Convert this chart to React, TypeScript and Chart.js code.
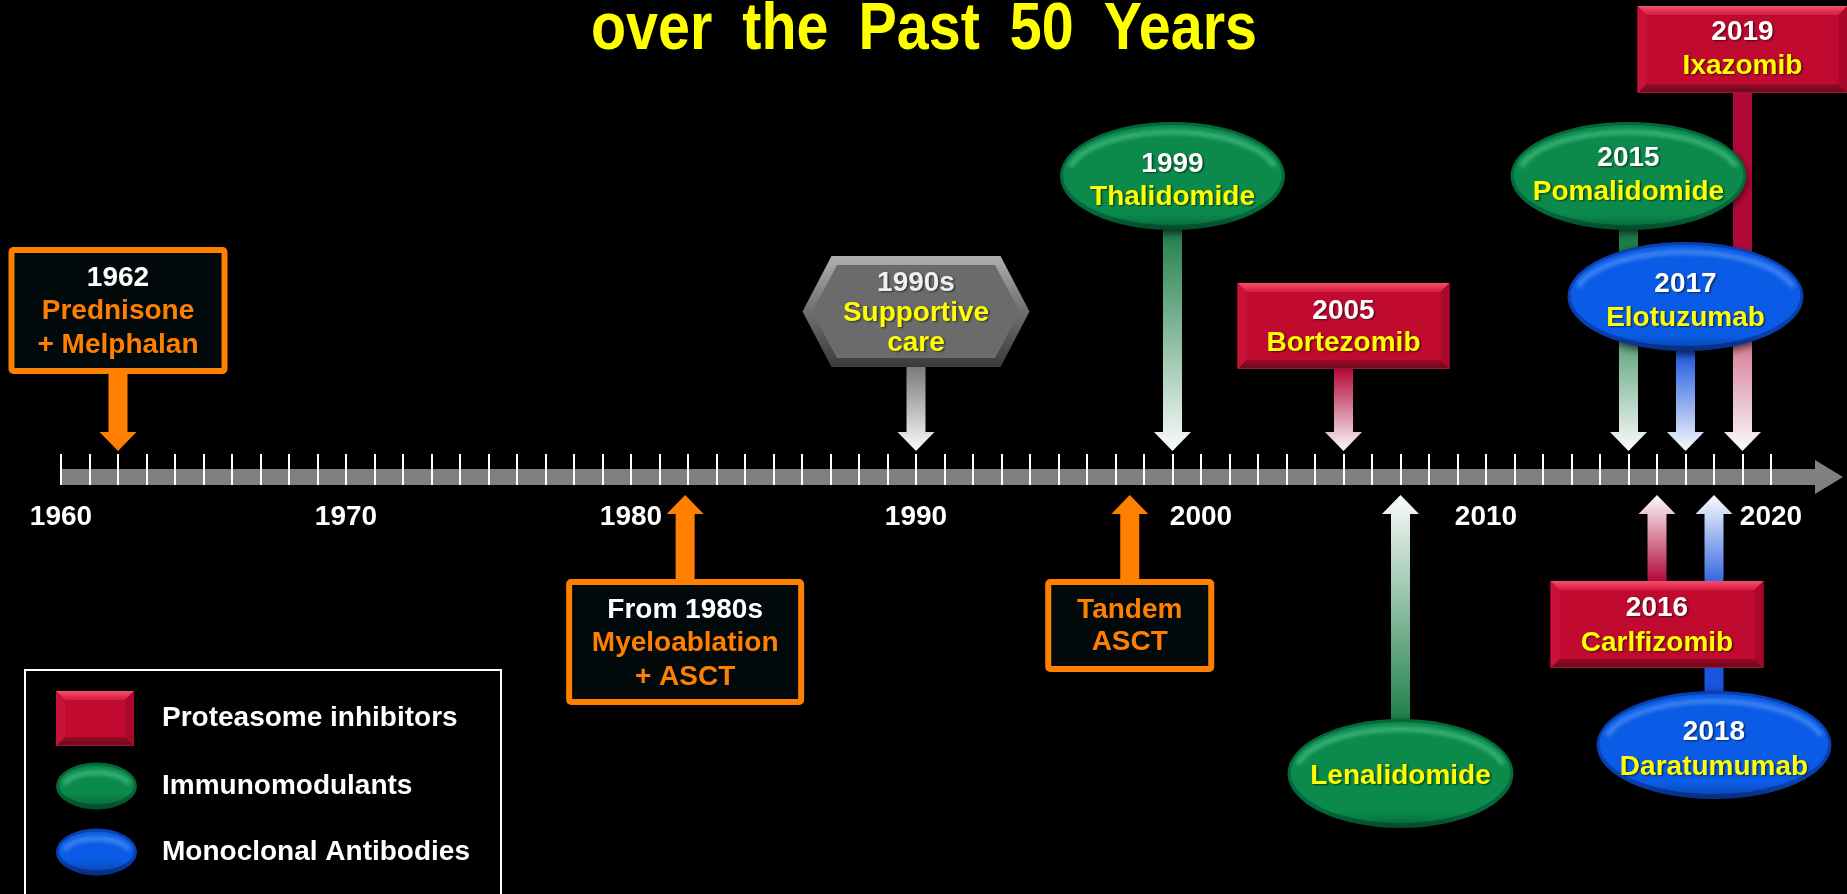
import React, { useEffect, useRef } from 'react';
import { Chart, registerables } from 'chart.js';

Chart.register(...registerables);

// ---- Timeline data ----
const yearMin = 1960;
const yearMax = 2020;
const decadeTicks = [1960, 1970, 1980, 1990, 2000, 2010, 2020];

const eventYears = [1962, 1981.9, 1990, 1997.5, 1999, 2005, 2007, 2015, 2016, 2017, 2018, 2019];
const eventDates = ['1962', 'From 1980s', '1990s', '', '1999', '2005', '', '2015', '2016', '2017', '2018', '2019'];
const eventNames = [
  ['Prednisone', '+ Melphalan'],
  ['Myeloablation', '+ ASCT'],
  ['Supportive', 'care'],
  ['Tandem', 'ASCT'],
  ['Thalidomide'],
  ['Bortezomib'],
  ['Lenalidomide'],
  ['Pomalidomide'],
  ['Carlfizomib'],
  ['Elotuzumab'],
  ['Daratumumab'],
  ['Ixazomib'],
];
const eventClasses = ['therapy', 'therapy', 'care', 'therapy', 'imid', 'pi', 'imid', 'imid', 'pi', 'mab', 'mab', 'pi'];

const legendClasses = ['pi', 'imid', 'mab'];
const legendLabels = ['Proteasome inhibitors', 'Immunomodulants', 'Monoclonal Antibodies'];

const titleWords = ['over', 'the', 'Past', '50', 'Years'];

// ---- Layout (pixels) ----
type Placement = { above: boolean; top: number; bottom: number; width: number; textY: number[]; solid?: number };
const placements: Placement[] = [
  { above: true, top: 247, bottom: 374, width: 219, textY: [278, 311, 345] },
  { above: false, top: 579, bottom: 705, width: 238, textY: [610, 643, 677] },
  { above: true, top: 256, bottom: 367, width: 227, textY: [283, 313, 343] },
  { above: false, top: 579, bottom: 672, width: 169, textY: [610, 642] },
  { above: true, top: 122, bottom: 230, width: 225, textY: [164, 197] },
  { above: true, top: 283, bottom: 369, width: 212, textY: [311, 343] },
  { above: false, top: 719, bottom: 828, width: 226, textY: [776] },
  { above: true, top: 122, bottom: 230, width: 236, textY: [158, 192], solid: 0.3 },
  { above: false, top: 581, bottom: 668, width: 213, textY: [608, 643] },
  { above: true, top: 242, bottom: 351, width: 236, textY: [284, 318] },
  { above: false, top: 691, bottom: 799, width: 235, textY: [732, 767], solid: 0.5 },
  { above: true, top: 6, bottom: 93, width: 210, textY: [32, 66], solid: 0.42 },
];

const TITLE = { left: 591, width: 666, baseline: 49, wordGap: 30, font: 'bold 66px "Liberation Sans", Arial, sans-serif' };
const AX = { barTop: 469, barBottom: 485, tickTop: 454, headX: 1815, tipX: 1843, headTop: 460, headBottom: 494, labelY: 517 };
const ARROW = { downTip: 451, upTip: 495, headH: 19, headW: 37, shaftW: 19 };

const FONT = 'bold 28px "Liberation Sans", Arial, Helvetica, sans-serif';
const ORANGE = '#ff8000';
const YELLOW = '#ffff00';

const palette: Record<string, { shaft: string; base: string; rim: string; light: string }> = {
  therapy: { shaft: ORANGE, base: '#02090b', rim: ORANGE, light: ORANGE },
  care: { shaft: '#7a7a7a', base: '#6c6c6c', rim: '#3e3e3e', light: '#a6a6a6' },
  pi: { shaft: '#b3093a', base: '#c00a30', rim: '#7c0a20', light: '#f0445f' },
  imid: { shaft: '#1f8049', base: '#0b8a4c', rim: '#05683a', light: '#46bd80' },
  mab: { shaft: '#1a55de', base: '#0a5ce6', rim: '#0a3fb0', light: '#4d8ff5' },
};

function arrowPath(ctx: CanvasRenderingContext2D, cx: number, fromY: number, tipY: number) {
  const dir = tipY > fromY ? 1 : -1;
  const hb = tipY - dir * ARROW.headH;
  const s = ARROW.shaftW / 2;
  const h = ARROW.headW / 2;
  ctx.beginPath();
  ctx.moveTo(cx - s, fromY);
  ctx.lineTo(cx - s, hb);
  ctx.lineTo(cx - h, hb);
  ctx.lineTo(cx, tipY);
  ctx.lineTo(cx + h, hb);
  ctx.lineTo(cx + s, hb);
  ctx.lineTo(cx + s, fromY);
  ctx.closePath();
}

function drawOutlineBox(ctx: CanvasRenderingContext2D, l: number, t: number, w: number, h: number) {
  ctx.save();
  ctx.fillStyle = '#02090b';
  ctx.beginPath();
  ctx.roundRect(l + 2, t + 2, w - 4, h - 4, 3);
  ctx.fill();
  ctx.strokeStyle = ORANGE;
  ctx.lineWidth = 6;
  ctx.lineJoin = 'round';
  ctx.beginPath();
  ctx.roundRect(l + 3, t + 3, w - 6, h - 6, 2);
  ctx.stroke();
  ctx.restore();
}

function drawHexagon(ctx: CanvasRenderingContext2D, l: number, t: number, w: number, h: number) {
  const r = l + w;
  const b = t + h;
  const m = t + h / 2;
  const inset = 29;
  const hex = (d: number) => {
    ctx.beginPath();
    ctx.moveTo(l + d * 1.1, m);
    ctx.lineTo(l + inset + d * 0.6, t + d);
    ctx.lineTo(r - inset - d * 0.6, t + d);
    ctx.lineTo(r - d * 1.1, m);
    ctx.lineTo(r - inset - d * 0.6, b - d);
    ctx.lineTo(l + inset + d * 0.6, b - d);
    ctx.closePath();
  };
  ctx.save();
  const g = ctx.createLinearGradient(0, t, 0, b);
  g.addColorStop(0, '#b0b0b0');
  g.addColorStop(0.5, '#6e6e6e');
  g.addColorStop(1, '#3a3a3a');
  hex(0);
  ctx.fillStyle = g;
  ctx.fill();
  hex(9);
  ctx.fillStyle = '#6b6b6b';
  ctx.fill();
  ctx.restore();
}

function drawBevelRect(ctx: CanvasRenderingContext2D, l: number, t: number, w: number, h: number) {
  const r = l + w;
  const b = t + h;
  const d = 9;
  const poly = (pts: number[][], fill: string | CanvasGradient) => {
    ctx.beginPath();
    ctx.moveTo(pts[0][0], pts[0][1]);
    for (let i = 1; i < pts.length; i++) ctx.lineTo(pts[i][0], pts[i][1]);
    ctx.closePath();
    ctx.fillStyle = fill;
    ctx.fill();
  };
  ctx.save();
  poly([[l, t], [r, t], [r, b], [l, b]], '#c00a30');
  const gt = ctx.createLinearGradient(0, t, 0, t + d);
  gt.addColorStop(0, '#f3506c');
  gt.addColorStop(1, '#d81a40');
  poly([[l, t], [r, t], [r - d, t + d], [l + d, t + d]], gt);
  const gb = ctx.createLinearGradient(0, b - d, 0, b);
  gb.addColorStop(0, '#9a0a26');
  gb.addColorStop(0.8, '#6e0a1c');
  gb.addColorStop(1, '#a0223a');
  poly([[l, b], [r, b], [r - d, b - d], [l + d, b - d]], gb);
  poly([[l, t], [l + d, t + d], [l + d, b - d], [l, b]], '#c8123a');
  poly([[r, t], [r - d, t + d], [r - d, b - d], [r, b]], '#a9082a');
  ctx.restore();
}

function drawGem(ctx: CanvasRenderingContext2D, cx: number, cy: number, rx: number, ry: number, cls: string) {
  const p = palette[cls];
  ctx.save();
  ctx.shadowColor = 'rgba(0,0,0,0.7)';
  ctx.shadowBlur = 8;
  ctx.shadowOffsetY = 3;
  ctx.beginPath();
  ctx.ellipse(cx, cy, rx, ry, 0, 0, Math.PI * 2);
  ctx.fillStyle = p.rim;
  ctx.fill();
  ctx.restore();

  ctx.save();
  ctx.beginPath();
  ctx.ellipse(cx, cy, rx, ry, 0, 0, Math.PI * 2);
  ctx.clip();
  ctx.beginPath();
  ctx.ellipse(cx, cy - 1, rx - 3, ry - 4, 0, 0, Math.PI * 2);
  ctx.fillStyle = p.base;
  ctx.fill();
  ctx.filter = 'blur(2px)';
  ctx.beginPath();
  ctx.ellipse(cx, cy + 2, rx - 7, ry - 8, 0, Math.PI * 1.08, Math.PI * 1.92);
  ctx.strokeStyle = p.light;
  ctx.lineWidth = 4;
  ctx.stroke();
  ctx.filter = 'none';
  const g = ctx.createLinearGradient(0, cy + ry - 16, 0, cy + ry);
  g.addColorStop(0, 'rgba(0,0,0,0)');
  g.addColorStop(1, 'rgba(0,0,0,0.3)');
  ctx.fillStyle = g;
  ctx.fillRect(cx - rx, cy + ry - 16, rx * 2, 16);
  ctx.restore();
}

function drawLabel(ctx: CanvasRenderingContext2D, text: string, x: number, y: number, color: string, shadow: boolean) {
  ctx.save();
  ctx.font = FONT;
  ctx.textAlign = 'center';
  ctx.textBaseline = 'middle';
  if (shadow) {
    ctx.shadowColor = 'rgba(0,0,0,0.55)';
    ctx.shadowOffsetX = 1.5;
    ctx.shadowOffsetY = 1.5;
    ctx.shadowBlur = 2;
  }
  ctx.fillStyle = color;
  ctx.fillText(text, x, y);
  ctx.restore();
}

const timelinePlugin = {
  id: 'timeline',
  beforeDraw(chart: Chart) {
    const ctx = chart.ctx;
    ctx.save();
    ctx.fillStyle = '#000';
    ctx.fillRect(0, 0, chart.width, chart.height);
    ctx.restore();
  },
  afterDraw(chart: Chart) {
    const ctx = chart.ctx;
    const xs = chart.scales.x;
    const px = (v: number) => xs.getPixelForValue(v);

    // Title (second line of the slide heading), words spread across the title width
    ctx.save();
    ctx.font = TITLE.font;
    ctx.fillStyle = YELLOW;
    ctx.textAlign = 'left';
    ctx.textBaseline = 'alphabetic';
    const widths = titleWords.map((w) => ctx.measureText(w).width);
    const sum = widths.reduce((a, b) => a + b, 0);
    const sx = (TITLE.width - TITLE.wordGap * (titleWords.length - 1)) / sum;
    let cursor = TITLE.left;
    titleWords.forEach((w, k) => {
      ctx.save();
      ctx.translate(cursor, TITLE.baseline);
      ctx.scale(sx, 1);
      ctx.fillText(w, 0, 0);
      ctx.restore();
      cursor += widths[k] * sx + TITLE.wordGap;
    });
    ctx.restore();

    // Axis bar with arrow head
    const x0 = px(yearMin);
    ctx.save();
    ctx.fillStyle = '#808080';
    ctx.fillRect(x0, AX.barTop, AX.headX - x0, AX.barBottom - AX.barTop);
    ctx.beginPath();
    ctx.moveTo(AX.headX, AX.headTop);
    ctx.lineTo(AX.tipX, (AX.barTop + AX.barBottom) / 2);
    ctx.lineTo(AX.headX, AX.headBottom);
    ctx.closePath();
    ctx.fill();
    ctx.strokeStyle = '#ffffff';
    ctx.lineWidth = 2;
    for (let y = yearMin; y <= yearMax; y++) {
      const x = Math.round(px(y));
      ctx.beginPath();
      ctx.moveTo(x, AX.tickTop);
      ctx.lineTo(x, AX.barBottom);
      ctx.stroke();
    }
    ctx.restore();
    decadeTicks.forEach((y) => drawLabel(ctx, String(y), px(y), AX.labelY, '#ffffff', false));

    // Connecting arrows
    eventYears.forEach((year, i) => {
      const pl = placements[i];
      const cls = eventClasses[i];
      const cx = px(year);
      const tip = pl.above ? ARROW.downTip : ARROW.upTip;
      const edge = pl.above ? pl.bottom : pl.top;
      const start = (pl.top + pl.bottom) / 2;
      let fill: string | CanvasGradient = palette[cls].shaft;
      if (cls !== 'therapy') {
        const g = ctx.createLinearGradient(0, edge, 0, tip);
        g.addColorStop(0, palette[cls].shaft);
        if (pl.solid) g.addColorStop(pl.solid, palette[cls].shaft);
        g.addColorStop(1, '#fbfbfb');
        fill = g;
      }
      arrowPath(ctx, cx, start, tip);
      ctx.fillStyle = fill;
      ctx.fill();
    });

    // Event shapes and captions
    eventYears.forEach((year, i) => {
      const pl = placements[i];
      const cls = eventClasses[i];
      const cx = px(year);
      const l = cx - pl.width / 2;
      const h = pl.bottom - pl.top;
      if (cls === 'therapy') drawOutlineBox(ctx, l, pl.top, pl.width, h);
      else if (cls === 'care') drawHexagon(ctx, l, pl.top, pl.width, h);
      else if (cls === 'pi') drawBevelRect(ctx, l, pl.top, pl.width, h);
      else drawGem(ctx, cx, (pl.top + pl.bottom) / 2, pl.width / 2, h / 2, cls);

      const lines: { text: string; color: string }[] = [];
      if (eventDates[i]) lines.push({ text: eventDates[i], color: cls === 'care' ? '#efefef' : '#ffffff' });
      eventNames[i].forEach((n) => lines.push({ text: n, color: cls === 'therapy' ? ORANGE : YELLOW }));
      lines.forEach((ln, k) => drawLabel(ctx, ln.text, cx, pl.textY[k], ln.color, cls !== 'therapy'));
    });

    // Legend
    ctx.save();
    ctx.strokeStyle = '#ffffff';
    ctx.lineWidth = 2;
    ctx.strokeRect(25, 670, 476, 260);
    ctx.restore();
    const legendY = [718, 786, 852];
    legendClasses.forEach((cls, k) => {
      const cy = legendY[k];
      if (cls === 'pi') drawBevelRect(ctx, 56, cy - 27, 78, 55);
      else drawGem(ctx, 96.5, cy, 40.5, 23.5, cls);
      ctx.save();
      ctx.font = FONT;
      ctx.fillStyle = '#ffffff';
      ctx.textAlign = 'left';
      ctx.textBaseline = 'middle';
      ctx.fillText(legendLabels[k], 162, cy);
      ctx.restore();
    });
  },
};

export default function App() {
  const canvasRef = useRef<HTMLCanvasElement>(null);

  useEffect(() => {
    document.body.style.margin = '0';
    document.body.style.background = '#000';
    document.body.style.overflow = 'hidden';
    const chart = new Chart(canvasRef.current as HTMLCanvasElement, {
      type: 'scatter',
      data: {
        datasets: [
          {
            data: eventYears.map((y) => ({ x: y, y: 0 })),
            pointRadius: 0,
            showLine: false,
          },
        ],
      },
      options: {
        responsive: true,
        maintainAspectRatio: false,
        animation: false,
        events: [],
        layout: { padding: { left: 61, right: 76, top: 0, bottom: 0 } },
        scales: {
          x: { type: 'linear', min: yearMin, max: yearMax, display: false },
          y: { min: 0, max: 1, display: false },
        },
        plugins: { legend: { display: false }, tooltip: { enabled: false } },
      },
      plugins: [timelinePlugin],
    });
    return () => chart.destroy();
  }, []);

  return (
    <div style={{ position: 'fixed', left: 0, top: 0, width: '100vw', height: '100vh', background: '#000' }}>
      <canvas ref={canvasRef} />
    </div>
  );
}
